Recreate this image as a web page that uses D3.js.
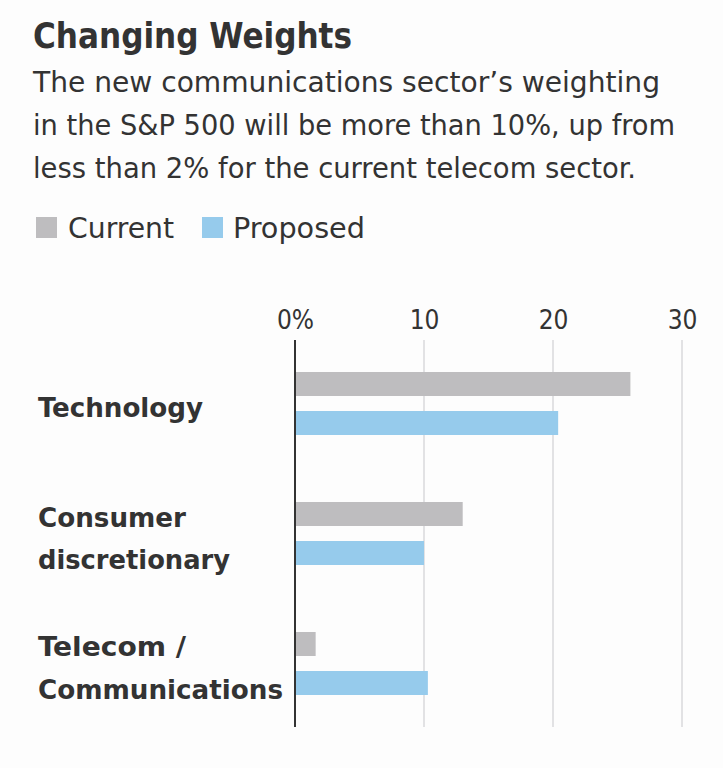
<!DOCTYPE html>
<html><head><meta charset="utf-8">
<script src="https://cdn.jsdelivr.net/npm/d3@7"></script>
<style>
body{margin:0;background:#fdfdfd;}
text{font-family:"Liberation Sans Narrow","DejaVu Sans Condensed",Roboto,sans-serif;fill:#333;}
</style></head>
<body><svg id="c" width="723" height="768"></svg>
<script>
const categories = [["Technology"], ["Consumer","discretionary"], ["Telecom /","Communications"]];
const seriesNames = ["Current","Proposed"];
const current = [26.0, 13.0, 1.6];
const proposed = [20.4, 10.0, 10.3];
const tickValues = [0,10,20,30];
const tickLabels = ["0%","10","20","30"];
const colors = ["#bebdbf","#96cbec"];

const svg = d3.select("#c");
svg.append("rect").attr("width",723).attr("height",768).attr("fill","#fdfdfd");

function fit(sel, w){ sel.attr("textLength", w).attr("lengthAdjust","spacingAndGlyphs"); return sel; }

fit(svg.append("text").attr("x",33).attr("y",48).attr("font-size",36).attr("font-weight",700).text("Changing Weights"),319);
const sub = ["The new communications sector’s weighting","in the S&P 500 will be more than 10%, up from","less than 2% for the current telecom sector."];
const subW = [627, 642, 603];
sub.forEach((s,i)=>fit(svg.append("text").attr("x",33).attr("y",92+i*43).attr("font-size",29).text(s),subW[i]));

// legend
const lg = [{x:36,tx:68,tw:106},{x:202,tx:233,tw:132}];
seriesNames.forEach((n,i)=>{
  svg.append("rect").attr("x",lg[i].x).attr("y",217).attr("width",21).attr("height",21).attr("fill",colors[i]);
  fit(svg.append("text").attr("x",lg[i].tx).attr("y",238).attr("font-size",29).text(n),lg[i].tw);
});

const x = d3.scaleLinear().domain([0,30]).range([295,682]);
const yTop = 340, yBot = 727;
const band = d3.scaleBand().domain(d3.range(categories.length)).range([342, 732]).paddingInner(0).paddingOuter(0);

// gridlines
svg.append("g").selectAll("line").data(tickValues.slice(1)).join("line")
  .attr("x1",d=>x(d)).attr("x2",d=>x(d)).attr("y1",yTop).attr("y2",yBot)
  .attr("stroke","#e2e2e4").attr("stroke-width",2);

// tick labels via axis
const ax = svg.append("g").attr("transform",`translate(0,${yTop})`)
  .call(d3.axisTop(x).tickValues(tickValues).tickFormat((d,i)=>tickLabels[i]).tickSize(0).tickPadding(11));
ax.select(".domain").remove();
ax.selectAll("text").attr("font-size",26).style("font-family",'"Liberation Sans Narrow","DejaVu Sans Condensed",Roboto,sans-serif').attr("fill","#333");

// bars
const barH = 24, offs = [30, 69];
[current, proposed].forEach((vals,si)=>{
  svg.append("g").selectAll("rect").data(vals).join("rect")
    .attr("x",x(0)).attr("y",(d,i)=>band(i)+offs[si]).attr("width",d=>x(d)-x(0)).attr("height",barH)
    .attr("fill",colors[si]);
});

// axis line
svg.append("line").attr("x1",x(0)).attr("x2",x(0)).attr("y1",yTop).attr("y2",yBot).attr("stroke","#333").attr("stroke-width",2);

// category labels
const labW = [[165],[148,192],[148,245]];
const labY = [[417],[527,569],[656,699]];
categories.forEach((lines,i)=>{
  lines.forEach((l,j)=>fit(svg.append("text").attr("x",38).attr("y",labY[i][j]).attr("font-size",27).attr("font-weight",700).text(l),labW[i][j]));
});
</script></body></html>
